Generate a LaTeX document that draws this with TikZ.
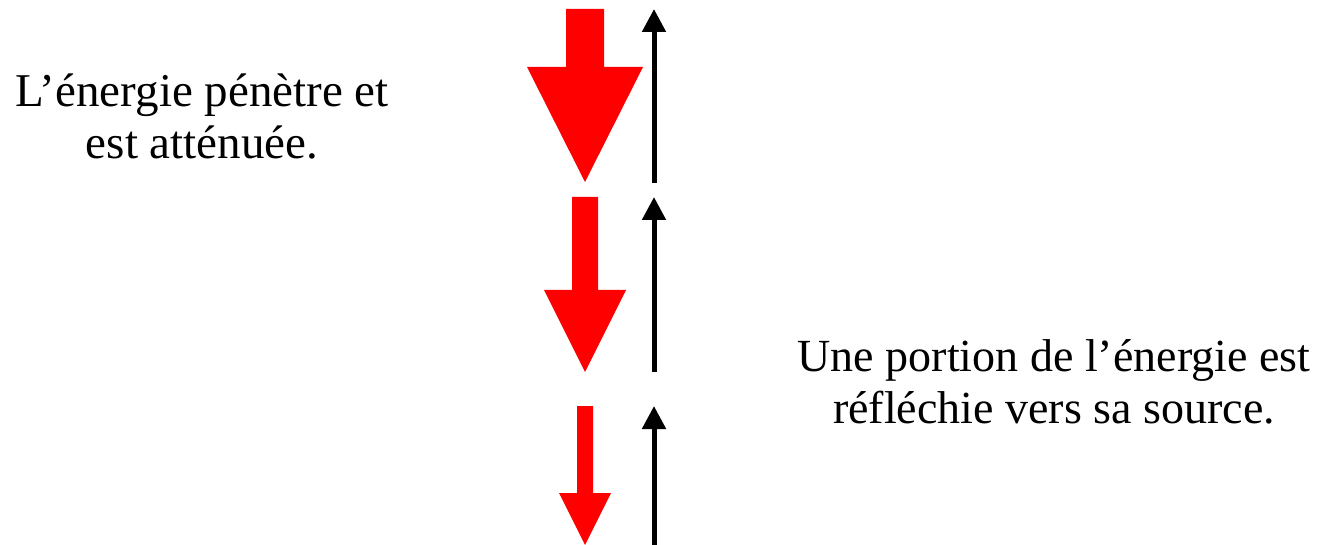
\documentclass[tikz,border=0pt]{standalone}
\usepackage{fontspec}
\setmainfont{Liberation Serif}
\usetikzlibrary{arrows.meta}
\definecolor{redarrow}{RGB}{255,0,0}
\tikzset{
  redarr/.style={fill=redarrow, draw=none},
  blackarr/.style={draw=black, line width=5pt, -{Triangle[width=23pt,length=23pt]}},
  label/.style={font=\fontsize{47}{52}\selectfont, align=center, anchor=base, inner sep=0pt},
  labelb/.style={font=\fontsize{46}{52}\selectfont, align=center, anchor=base, inner sep=0pt}
}
\begin{document}
\begin{tikzpicture}[x=1pt,y=-1pt]
\useasboundingbox (0,0) rectangle (1322,545);
% red arrows (downward)
\fill[redarr] (566,9) -- (604,9) -- (604,67) -- (643,67) -- (585,182) -- (527,67) -- (566,67) -- cycle;
\fill[redarr] (572,197) -- (598,197) -- (598,290) -- (626,290) -- (585,372) -- (544,290) -- (572,290) -- cycle;
\fill[redarr] (577,406) -- (593,406) -- (593,493) -- (611,493) -- (585,545) -- (559,493) -- (577,493) -- cycle;
% black arrows (upward)
\coordinate (b1s) at (654,183);
\coordinate (b1e) at (654,9);
\coordinate (b2s) at (654,372);
\coordinate (b2e) at (654,197);
\coordinate (b3s) at (654,545);
\coordinate (b3e) at (654,406);
\draw[blackarr] (b1s) -- (b1e);
\draw[blackarr] (b2s) -- (b2e);
\draw[blackarr] (b3s) -- (b3e);
% texts (base anchor = last line baseline)
\node[label] (t1) at (202,159) {L’énergie pénètre et\\est atténuée.};
\node[labelb] (t2) at (1054,423) {Une portion de l’énergie est\\réfléchie vers sa source.};
\end{tikzpicture}
\end{document}
